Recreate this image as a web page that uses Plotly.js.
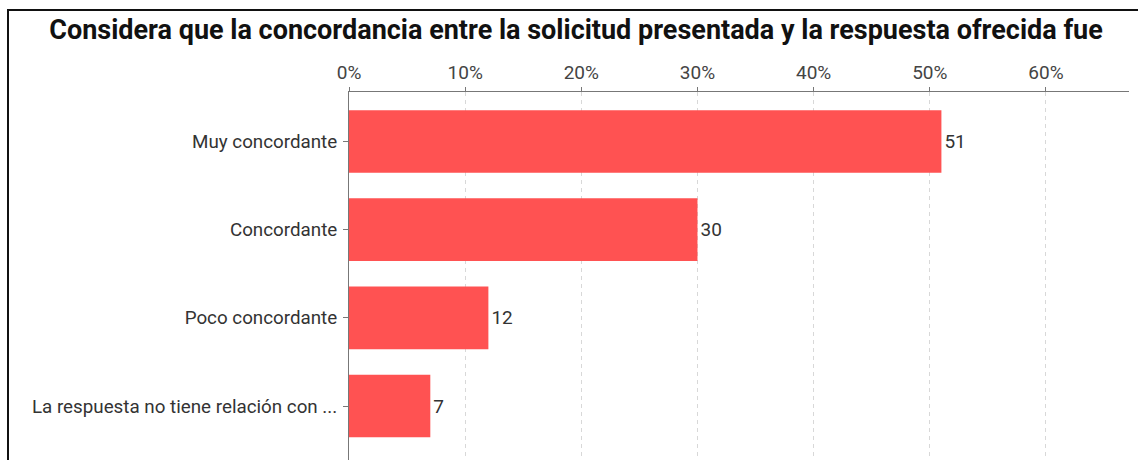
<!DOCTYPE html>
<html>
<head>
<meta charset="utf-8">
<script src="https://cdn.plot.ly/plotly-3.0.1.min.js"></script>
<style>
  html, body { margin: 0; padding: 0; background: #fff; overflow: hidden; }
  #wrap { position: relative; width: 1138px; height: 460px; }
  #chart { position: absolute; left: 0; top: 0; width: 1138px; height: 460px; }
  #frame { position: absolute; left: 7px; top: 9px; width: 1140px; height: 460px;
           border-top: 2px solid #111; border-left: 2px solid #111; pointer-events: none; }
</style>
</head>
<body>
<div id="wrap">
  <div id="chart"></div>
  <div id="frame"></div>
</div>
<script>
const titleText = "Considera que la concordancia entre la solicitud presentada y la respuesta ofrecida fue";
const categories = ["Muy concordante", "Concordante", "Poco concordante", "La respuesta no tiene relación con ..."];
const values = [51, 30, 12, 7];
const tickValues = [0, 10, 20, 30, 40, 50, 60];
const tickLabels = ["0%", "10%", "20%", "30%", "40%", "50%", "60%"];

const trace = {
  type: "bar",
  orientation: "h",
  y: categories.map((c, i) => i),
  x: values,
  text: values.map(v => String(v)),
  textposition: "outside",
  cliponaxis: false,
  textfont: { family: "Roboto", size: 19, color: "#333" },
  marker: { color: "#FF5252", line: { width: 0 } },
  hoverinfo: "skip"
};

const layout = {
  width: 1138, height: 460,
  margin: { l: 349, r: 9, t: 92, b: 0, pad: 0 },
  paper_bgcolor: "#fff", plot_bgcolor: "#fff",
  showlegend: false,
  bargap: 0.29,
  title: {
    text: "<b>" + titleText + "</b>",
    font: { family: "Roboto", size: 27, color: "#111" },
    xref: "container", x: 576 / 1138, xanchor: "center",
    yref: "container", y: 1 - 30 / 460, yanchor: "middle"
  },
  xaxis: {
    side: "top",
    range: [0, 67.15],
    tickvals: tickValues,
    ticktext: tickLabels,
    ticks: "outside", ticklen: 4, tickcolor: "#777", tickwidth: 1,
    tickfont: { family: "Roboto", size: 19, color: "#444" },
    ticklabelstandoff: 0,
    showline: true, linecolor: "#777", linewidth: 1,
    showgrid: true, gridcolor: "#d8d8d8", griddash: "4px,4px", gridwidth: 1,
    zeroline: false, fixedrange: true
  },
  yaxis: {
    range: [3.612, -0.561],
    tickvals: categories.map((c, i) => i),
    ticktext: categories,
    ticks: "outside", ticklen: 5, tickcolor: "#777", tickwidth: 1,
    tickfont: { family: "Roboto", size: 18.8, color: "#333" },
    ticklabelstandoff: 2,
    showline: true, linecolor: "#777", linewidth: 1,
    showgrid: false, zeroline: false, fixedrange: true
  }
};

Plotly.newPlot("chart", [trace], layout, { displayModeBar: false, staticPlot: true });
</script>
</body>
</html>
